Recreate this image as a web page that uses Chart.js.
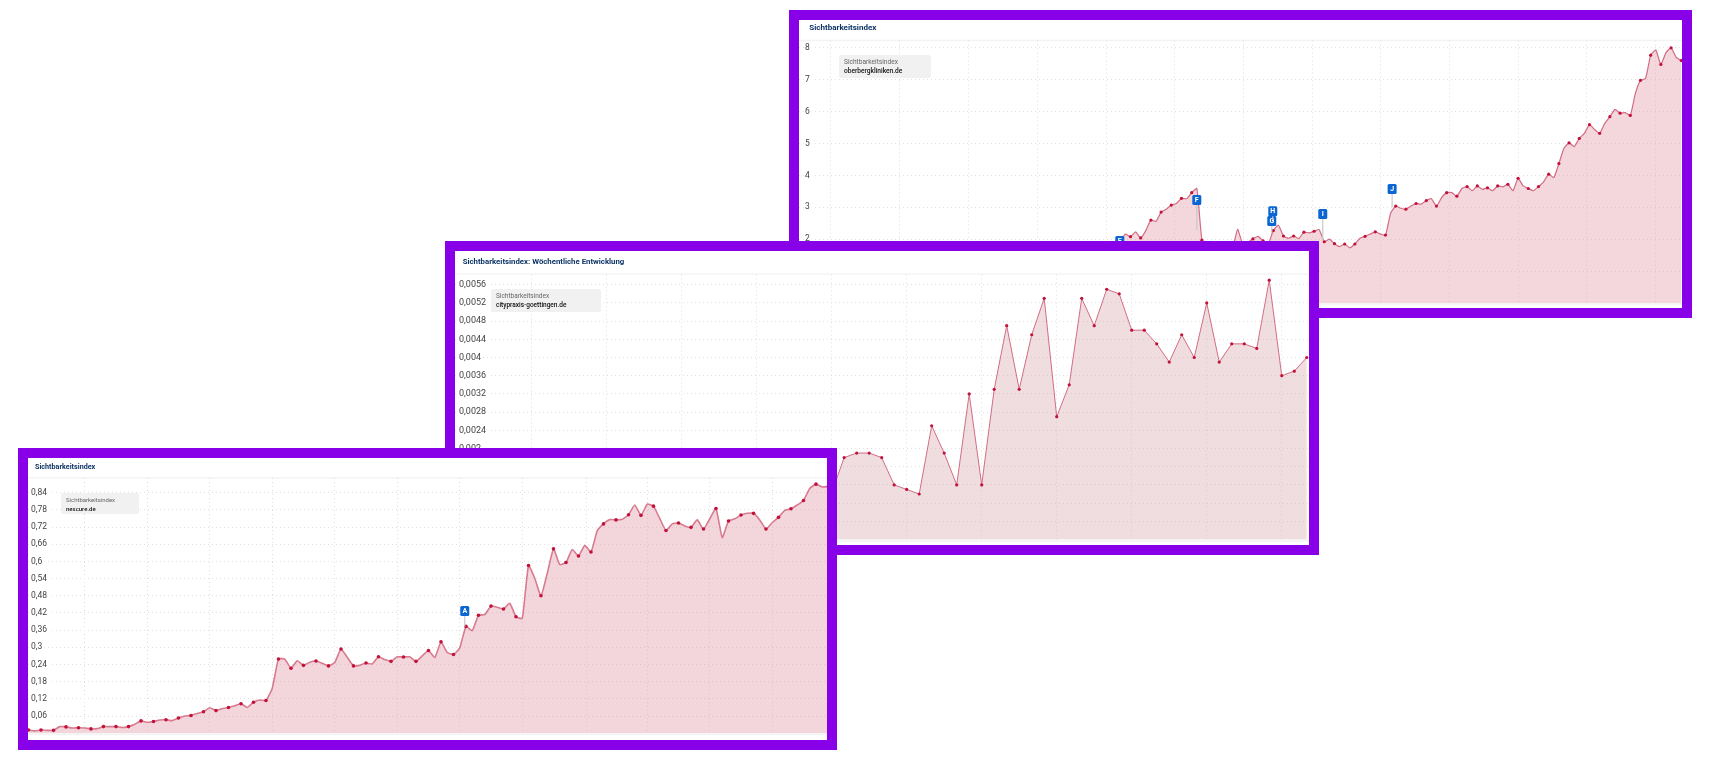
<!DOCTYPE html>
<html><head><meta charset="utf-8">
<script src="https://cdn.jsdelivr.net/npm/chart.js@4/dist/chart.umd.min.js"></script>
<style>
html,body{margin:0;padding:0;background:#fff;width:1724px;height:770px;overflow:hidden;font-family:Roboto,sans-serif}
.frame{position:absolute;border:10px solid #8800e8;background:#fff;overflow:hidden}
.frame canvas{position:absolute;left:-2px;top:0;filter:blur(.45px)}
.title{position:absolute;font-weight:700;color:#0d3566;white-space:nowrap;transform:translateY(-50%);filter:blur(.35px)}
.box{position:absolute;background:#f1f1f1;border-radius:2px;filter:blur(.3px)}
.box span{position:absolute;white-space:nowrap;transform:translateY(-50%)}
.box .a{color:#666}.box .b{color:#111;font-weight:500}
</style></head><body>
<script>
// ---- nescure.de (front chart)
const nescureValues=[.011,.008,.011,.010,.010,.023,.022,.018,.019,.018,.015,.016,.023,.023,.023,.020,.023,.031,.043,.038,.041,.046,.047,.044,.053,.060,.062,.069,.075,.089,.079,.086,.090,.096,.103,.090,.108,.116,.114,.157,.259,.259,.227,.253,.237,.248,.252,.244,.235,.247,.294,.265,.235,.237,.245,.242,.267,.257,.251,.267,.266,.267,.251,.270,.289,.264,.319,.282,.275,.298,.373,.358,.412,.414,.444,.440,.434,.454,.407,.401,.586,.541,.480,.558,.644,.589,.596,.642,.619,.656,.633,.707,.731,.746,.745,.747,.763,.797,.761,.800,.793,.750,.708,.731,.734,.724,.719,.745,.713,.749,.785,.683,.741,.749,.762,.768,.768,.745,.713,.736,.754,.778,.784,.797,.813,.855,.870,.860,.862];
const nescureYTicks=[.06,.12,.18,.24,.3,.36,.42,.48,.54,.6,.66,.72,.78,.84];
const nescureXTicks=[9,19,29,39,49,59,69,79,89.2,99,109,119];
const nescureXLabels=['02.04.2018','11.06.2018','20.08.2018','29.10.2018','07.01.2019','18.03.2019','27.05.2019','05.08.2019','14.10.2019','23.12.2019','02.03.2020','11.05.2020'];
const nescureBadgeLabels=['A'],nescureBadgeX=[69.8],nescureBadgeY=[.427],nescureBadgeStem=[.373];

// ---- citypraxis-goettingen.de (middle chart); the weeks before index 30 lie behind the front chart
const cityFirstWeek=30;
const cityValues=[.00103,.0018,.0019,.0019,.0018,.0012,.0011,.0010,.0025,.0019,.0012,.0032,.0012,.0033,.0047,.0033,.0045,.0053,.0027,.0034,.0053,.0047,.0055,.0054,.0046,.0046,.0043,.0039,.0045,.0040,.0052,.0039,.0043,.0043,.0042,.0057,.0036,.0037,.0040];
const cityYTicks=[.0004,.0008,.0012,.0016,.002,.0024,.0028,.0032,.0036,.004,.0044,.0048,.0052,.0056];
const cityXTicks=[6,12,18,24,30,36,42,48,54,60,66];

// ---- oberbergkliniken.de (back chart); earlier weeks lie behind the middle chart
const oberbergFirstWeek=62;
const oberbergValues=[1.85,1.95,2.16,2.08,2.23,2.04,2.27,2.60,2.56,2.85,2.94,3.07,3.12,3.28,3.27,3.46,3.59,1.97,1.6,1.55,1.6,1.65,1.6,1.7,2.31,1.85,1.9,2.01,2.09,1.95,1.85,2.27,2.44,2.10,2.03,2.10,2.02,2.22,2.20,2.25,2.30,1.92,2.00,1.86,1.77,1.85,1.73,1.85,2.03,2.09,2.16,2.23,2.16,2.13,2.81,3.04,2.97,2.94,3.04,3.12,3.10,3.21,3.27,3.04,3.30,3.46,3.46,3.35,3.59,3.65,3.52,3.67,3.56,3.61,3.52,3.67,3.64,3.72,3.52,3.91,3.67,3.59,3.52,3.65,3.80,4.04,3.93,4.37,4.85,5.02,4.90,5.16,5.32,5.59,5.44,5.32,5.63,5.84,6.07,5.95,5.97,5.88,6.57,6.98,7.04,7.77,7.93,7.48,7.85,8.00,7.70,7.60];
const oberbergYTicks=[1,2,3,4,5,6,7,8];
const oberbergXTicks=[6.27,19.75,33.2,46.7,60.2,73.7,87.1,100.6,114.1,127.6,141.1,154.5,168];
const oberbergBadgeLabels=['E','F','G','H','I','J'],oberbergBadgeX=[62.9,78,92.7,92.9,102.7,116.3],oberbergBadgeY=[1.94,3.23,2.57,2.88,2.79,3.57],oberbergBadgeStem=[1.9,2.3,2.2,2.6,1.95,3.0];

const titleText=['Sichtbarkeitsindex','Sichtbarkeitsindex: Wöchentliche Entwicklung','Sichtbarkeitsindex'];

const frameDecor={id:'frameDecor',beforeDraw(c){const a=c.chartArea,x=c.ctx;x.save();x.fillStyle='#f4f4f4';
  x.fillRect(0,a.top-1,c.width,1.5);x.fillRect(0,a.bottom,c.width,2);x.restore();}};
const badges={id:'badges',afterDatasetsDraw(c,_,o){if(!o.labels)return;const x=c.ctx,sx=c.scales.x,sy=c.scales.y;x.save();
  o.labels.forEach((l,i)=>{const px=sx.getPixelForValue(o.xs[i]),py=sy.getPixelForValue(o.ys[i]),st=sy.getPixelForValue(o.stem[i]);
    x.strokeStyle='#c9c9c9';x.lineWidth=1.2;x.beginPath();x.moveTo(px,py);x.lineTo(px,st);x.stroke();
    x.fillStyle='#0b66d3';x.beginPath();x.roundRect(px-4.5,py-5,9,10,1.5);x.fill();
    x.fillStyle='#fff';x.font='700 7px Roboto';x.textAlign='center';x.textBaseline='middle';x.fillText(l,px,py+.3);});
  x.restore();}};

function panel(o){
  const f=document.createElement('div');f.className='frame';
  f.style.cssText=`left:${o.left}px;top:${o.top}px;width:${o.w}px;height:${o.h}px;z-index:${o.z}`;
  const t=document.createElement('div');t.className='title';t.textContent=o.title;
  t.style.cssText=`left:${o.tx}px;top:${o.ty}px;font-size:${o.tf}px`;
  const cv=document.createElement('canvas');cv.width=o.w+4;cv.height=o.h+30;
  const b=document.createElement('div');b.className='box';
  b.style.cssText=`left:${o.bx}px;top:${o.by}px;width:${o.bw}px;height:${o.bh}px;font-size:${o.bf}px`;
  b.innerHTML=`<span class="a" style="left:5px;top:${o.bh*.3}px">Sichtbarkeitsindex</span><span class="b" style="left:5px;top:${o.bh*.72}px"></span>`;
  b.querySelector('.b').textContent=o.site;
  f.append(cv,t,b);document.body.appendChild(f);
  new Chart(cv,{type:'line',
    data:{datasets:[{data:o.values.map((v,i)=>({x:o.first+i,y:v})),borderColor:o.line,borderWidth:o.lw,backgroundColor:o.fill,fill:'origin',tension:o.tension,
      pointRadius:c=>(o.mark(c.raw.x)?o.mr:0),pointHoverRadius:0,pointBackgroundColor:'#c2123a',pointBorderWidth:0}]},
    options:{responsive:false,animation:false,events:[],layout:{padding:{top:o.areaTop,left:2,right:2,bottom:0}},
      plugins:{legend:{display:false},tooltip:{enabled:false},title:{display:false},badges:o.badges||{}},
      scales:{
        x:{type:'linear',min:o.xMin,max:o.xMax,
          afterBuildTicks:s=>{s.ticks=o.xTicks.map(v=>({value:v}));},
          afterFit:s=>{s.height=o.h+30-o.areaBottom;s.paddingLeft=s.paddingRight=0;},
          grid:{color:'#dedede',lineWidth:1,drawTicks:false},border:{display:false,dash:[1,3]},
          ticks:{display:!!o.xLabels,maxRotation:0,autoSkip:false,padding:6,color:'#666',font:{family:'Roboto',size:9.5},
            callback:(v,i)=>o.xLabels?o.xLabels[i]:''}},
        y:{min:0,max:o.yMax,
          afterBuildTicks:s=>{s.ticks=o.yTicks.map(v=>({value:v}));},
          afterFit:s=>{s.width=0;},
          grid:{color:'#e2e2e2',lineWidth:1,drawTicks:false},border:{display:false,dash:[1,3]},
          ticks:{mirror:true,padding:o.tp,z:1,color:'#444',font:{family:'Roboto',size:o.yf},showLabelBackdrop:true,backdropColor:'#fff',backdropPadding:{top:0,bottom:0,left:1,right:2},
            callback:v=>String(v).replace('.',',')}}
      }},
    plugins:[frameDecor,badges]});
}

panel({left:789,top:10,w:883,h:288,z:1,title:titleText[0],tx:10.3,ty:7.3,tf:8,site:'oberbergkliniken.de',bx:40,by:35,bw:92,bh:22.7,bf:6.6,
  areaTop:20.7,areaBottom:283,yMax:8.223,xMin:0,xMax:173.14,values:oberbergValues,first:oberbergFirstWeek,yTicks:oberbergYTicks,xTicks:oberbergXTicks,
  line:'#d26c84',lw:1.2,fill:'rgba(222,140,156,.35)',tension:.15,mark:x=>x%2===1,mr:1.6,tp:6,yf:8.5,
  badges:{labels:oberbergBadgeLabels,xs:oberbergBadgeX,ys:oberbergBadgeY,stem:oberbergBadgeStem}});
panel({left:445,top:241,w:854,h:294,z:2,title:titleText[1],tx:7.7,ty:10,tf:7.8,site:'citypraxis-goettingen.de',bx:36,by:38,bw:110,bh:22.7,bf:6.5,
  areaTop:23.3,areaBottom:288.5,yMax:.005829,xMin:-.13,xMax:68.18,values:cityValues,first:cityFirstWeek,yTicks:cityYTicks,xTicks:cityXTicks,
  line:'#d26c84',lw:1,fill:'rgba(205,150,160,.32)',tension:0,mark:()=>true,mr:1.6,tp:4,yf:9,badges:{}});
panel({left:18,top:448,w:799,h:282,z:3,title:titleText[2],tx:7,ty:7.7,tf:7.2,site:'nescure.de',bx:33,by:34.7,bw:78.3,bh:21.3,bf:6,
  areaTop:20,areaBottom:275.2,yMax:.8914,xMin:-.08,xMax:127.76,values:nescureValues,first:0,yTicks:nescureYTicks,xTicks:nescureXTicks,xLabels:nescureXLabels,
  line:'#d87a90',lw:1.6,fill:'rgba(222,140,156,.36)',tension:.15,mark:x=>x%2===0,mr:1.8,tp:3,yf:8.5,
  badges:{labels:nescureBadgeLabels,xs:nescureBadgeX,ys:nescureBadgeY,stem:nescureBadgeStem}});
</script>
</body></html>
